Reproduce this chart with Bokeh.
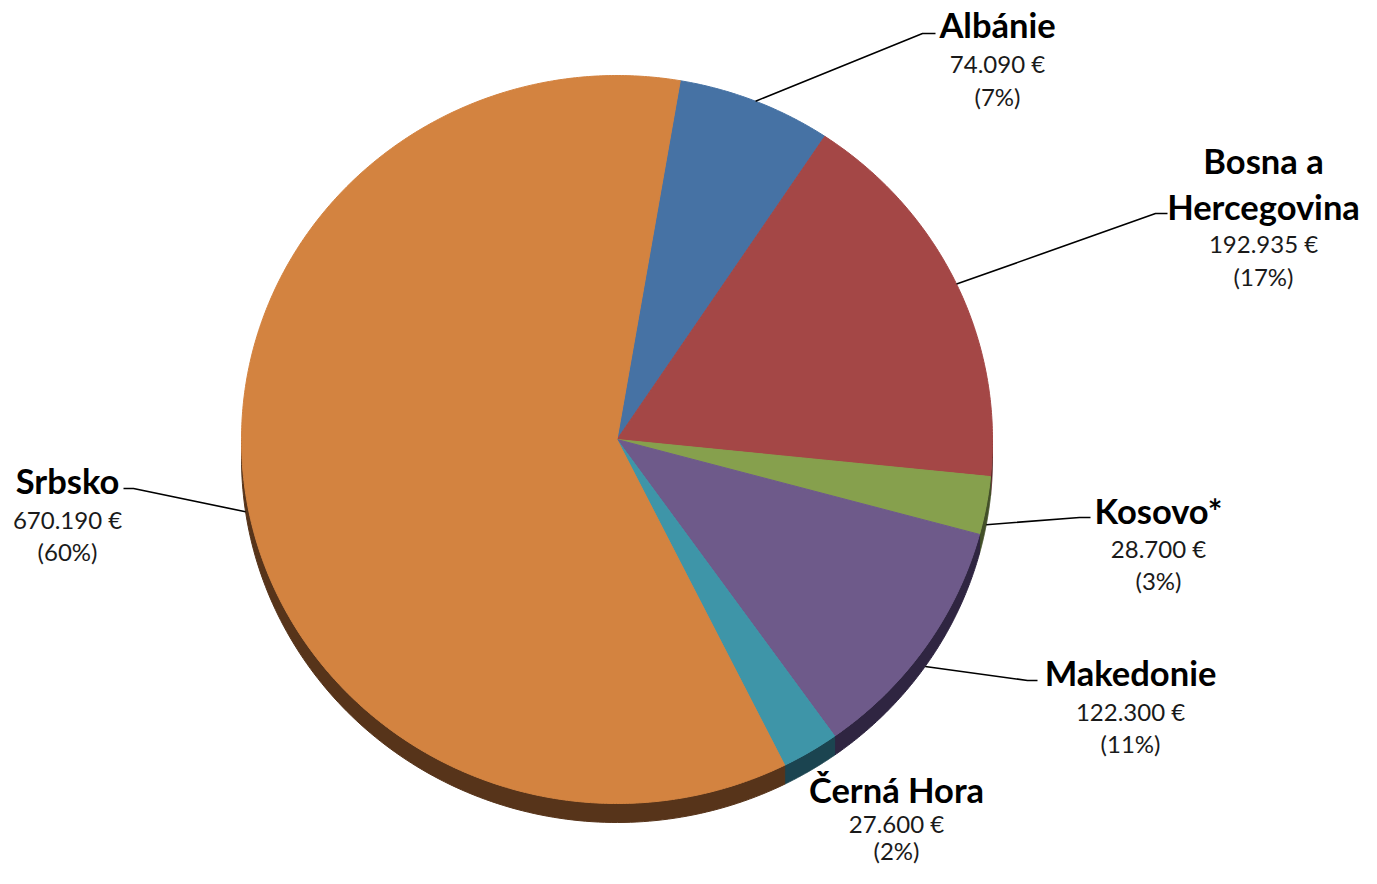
import numpy as np
from bokeh.plotting import figure
from bokeh.models import Range1d
from bokeh.embed import file_html
from bokeh.resources import INLINE
from bokeh.core.properties import value

# ---------------- data ----------------
countries = ["Albánie", "Bosna a\nHercegovina", "Kosovo*", "Makedonie", "Černá Hora", "Srbsko"]
amounts = [74090, 192935, 28700, 122300, 27600, 670190]
value_labels = ["74.090 €", "192.935 €", "28.700 €", "122.300 €", "27.600 €", "670.190 €"]
pct_labels = ["(7%)", "(17%)", "(3%)", "(11%)", "(2%)", "(60%)"]

# ---------------- styles / layout ----------------
top_colors = ["#4672A4", "#A44746", "#86A04D", "#6E5A8A", "#3E95A8", "#D38340"]
side_colors = ["#233A55", "#552524", "#435028", "#2F2541", "#1B4450", "#57341A"]

CX, CY, RX, RY, DEPTH = 616.5, 439.0, 375.5, 364.0, 19.0
START_DEG = 9.7

label_x = [997, 1263, 1158, 1130, 896, 67]
name_y = [24, 160, 510, 672, 789, 480]
value_y = [63, 243, 548, 711, 823, 519]
pct_y = [96, 276, 580, 743, 850, 551]
NAME_LINE_GAP = 46
# leader elbows (elbow point, end point); None = no leader
leaders = [((922, 33), (935, 33)),
           ((1155, 213), (1167, 213)),
           ((1079, 517), (1090, 517)),
           ((1027, 680), (1037, 680)),
           None,
           ((133, 488), (123, 488))]

W, H = 1361, 868
p = figure(width=W, height=H, x_range=Range1d(0, W), y_range=Range1d(H, 0),
           output_backend="svg", toolbar_location=None, min_border=0,
           outline_line_color=None, background_fill_color="white",
           border_fill_color="white")
p.axis.visible = False
p.grid.visible = False


def ept(deg, dy=0.0):
    t = np.radians(deg)
    return CX + RX * np.sin(t), CY - RY * np.cos(t) + dy


vals = np.array(amounts, dtype=float)
spans = vals / vals.sum() * 360.0
starts = START_DEG + np.concatenate([[0], np.cumsum(spans)[:-1]])
ends = starts + spans

# side (depth) bands – only the front half (90..270 deg clockwise from top)
side_xs, side_ys, side_c = [], [], []
for a1, a2, c in zip(starts, ends, side_colors):
    for off in (0.0, 360.0):
        lo, hi = max(a1, 90 + off), min(a2, 270 + off)
        if hi > lo:
            ang = np.linspace(lo, hi, 120)
            tx, ty = ept(ang)
            bx, by = ept(ang[::-1], DEPTH)
            side_xs.append(list(np.concatenate([tx, bx])))
            side_ys.append(list(np.concatenate([ty, by])))
            side_c.append(c)
p.patches(xs=side_xs, ys=side_ys, fill_color=side_c, line_color=side_c, line_width=1)

# top faces
top_xs, top_ys = [], []
for a1, a2 in zip(starts, ends):
    ang = np.linspace(a1, a2, max(int((a2 - a1) * 2), 8))
    ax, ay = ept(ang)
    top_xs.append([CX] + list(ax))
    top_ys.append([CY] + list(ay))
p.patches(xs=top_xs, ys=top_ys, fill_color=top_colors, line_color=top_colors, line_width=1)

# leader lines
lx, ly = [], []
for a1, a2, ld in zip(starts, ends, leaders):
    if ld is None:
        continue
    mid = (a1 + a2) / 2.0
    dy = DEPTH if np.cos(np.radians(mid)) < 0 else 0.0
    ax, ay = ept(mid, dy)
    lx.append([ax, ld[0][0], ld[1][0]])
    ly.append([ay, ld[0][1], ld[1][1]])
p.multi_line(xs=lx, ys=ly, line_color="black", line_width=1.6)

# labels
nx, ny, nt = [], [], []
for name, x, y in zip(countries, label_x, name_y):
    for i, line in enumerate(name.split("\n")):
        nx.append(x)
        ny.append(y + i * NAME_LINE_GAP)
        nt.append(line)
p.text(x=nx, y=ny, text=nt, text_font=value("Lato"), text_font_style="bold",
       text_font_size="34.5px", text_align="center", text_baseline="middle",
       text_color="black")
p.text(x=label_x + label_x, y=value_y + pct_y, text=value_labels + pct_labels,
       text_font=value("Lato"), text_font_size="24px", text_align="center",
       text_baseline="middle", text_color="#1a1a1a")

open("out.html", "w").write(file_html(p, INLINE))
